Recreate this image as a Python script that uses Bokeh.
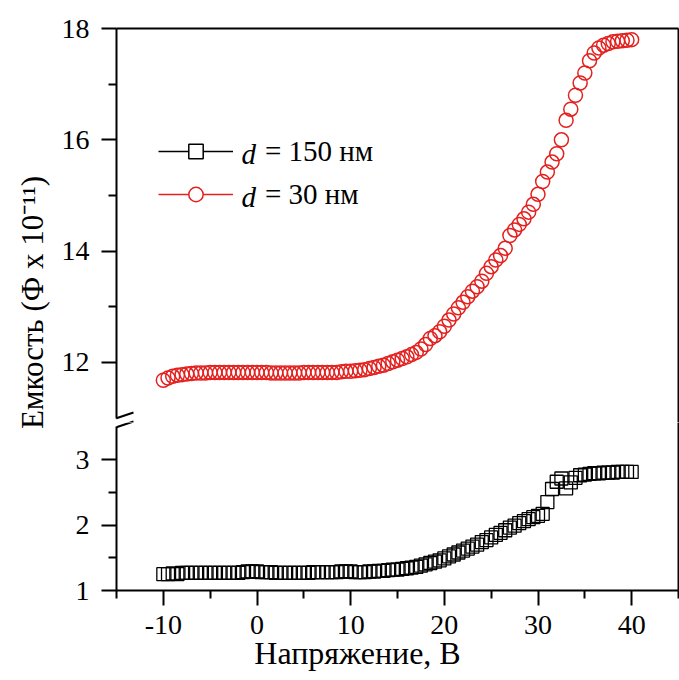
import numpy as np
from bokeh.plotting import figure
from bokeh.models import Range1d, LinearAxis, FixedTicker, Legend, LegendItem, Label, Arrow
from bokeh.layouts import row, column
from bokeh.embed import file_html
from bokeh.resources import INLINE

# ---------------- data ----------------
voltage = [-10.0, -9.5, -9.0, -8.5, -8.0, -7.5, -7.0, -6.5, -6.0, -5.5,
           -5.0, -4.5, -4.0, -3.5, -3.0, -2.5, -2.0, -1.5, -1.0, -0.5,
           0.0, 0.5, 1.0, 1.5, 2.0, 2.5, 3.0, 3.5, 4.0, 4.5,
           5.0, 5.5, 6.0, 6.5, 7.0, 7.5, 8.0, 8.5, 9.0, 9.5,
           10.0, 10.5, 11.0, 11.5, 12.0, 12.5, 13.0, 13.5, 14.0, 14.5,
           15.0, 15.5, 16.0, 16.5, 17.0, 17.5, 18.0, 18.5, 19.0, 19.5,
           20.0, 20.5, 21.0, 21.5, 22.0, 22.5, 23.0, 23.5, 24.0, 24.5,
           25.0, 25.5, 26.0, 26.5, 27.0, 27.5, 28.0, 28.5, 29.0, 29.5,
           30.0, 30.5, 31.0, 31.5, 32.0, 32.5, 33.0, 33.5, 34.0, 34.5,
           35.0, 35.5, 36.0, 36.5, 37.0, 37.5, 38.0, 38.5, 39.0, 39.5,
           40.0]

cap_150nm = [1.25, 1.25, 1.26, 1.25, 1.27, 1.27, 1.27, 1.27, 1.27, 1.27,
             1.27, 1.27, 1.27, 1.27, 1.27, 1.27, 1.27, 1.28, 1.29, 1.29,
             1.29, 1.28, 1.28, 1.28, 1.27, 1.27, 1.27, 1.27, 1.27, 1.27,
             1.27, 1.27, 1.28, 1.28, 1.28, 1.28, 1.28, 1.28, 1.29, 1.29,
             1.29, 1.28, 1.28, 1.28, 1.29, 1.29, 1.30, 1.30, 1.31, 1.32,
             1.32, 1.33, 1.34, 1.35, 1.36, 1.38, 1.40, 1.42, 1.44, 1.46,
             1.49, 1.52, 1.55, 1.58, 1.61, 1.64, 1.67, 1.70, 1.74, 1.77,
             1.81, 1.85, 1.88, 1.92, 1.96, 1.99, 2.03, 2.06, 2.09, 2.12,
             2.14, 2.17, 2.35, 2.55, 2.66, 2.71, 2.56, 2.65, 2.72, 2.76,
             2.77, 2.78, 2.79, 2.79, 2.80, 2.80, 2.80, 2.81, 2.81, 2.81,
             2.81]

cap_30nm = [11.68, 11.72, 11.75, 11.77, 11.78, 11.79, 11.80, 11.81, 11.81, 11.81,
            11.82, 11.82, 11.82, 11.82, 11.82, 11.82, 11.82, 11.82, 11.82, 11.82,
            11.82, 11.82, 11.82, 11.81, 11.81, 11.81, 11.81, 11.81, 11.81, 11.81,
            11.82, 11.82, 11.82, 11.82, 11.82, 11.82, 11.82, 11.82, 11.83, 11.84,
            11.84, 11.85, 11.86, 11.87, 11.89, 11.91, 11.93, 11.95, 11.98, 12.01,
            12.04, 12.07, 12.10, 12.14, 12.18, 12.24, 12.32, 12.43, 12.48, 12.55,
            12.65, 12.76, 12.87, 12.98, 13.08, 13.18, 13.28, 13.36, 13.46, 13.60,
            13.72, 13.84, 13.92, 14.05, 14.28, 14.38, 14.48, 14.58, 14.70, 14.84,
            15.02, 15.25, 15.42, 15.60, 15.75, 16.00, 16.35, 16.55, 16.80, 17.02,
            17.20, 17.42, 17.56, 17.65, 17.70, 17.73, 17.76, 17.77, 17.78, 17.79,
            17.80]

x_ticks = [-10, 0, 10, 20, 30, 40]
x_minor = [-15, -5, 5, 15, 25, 35, 45]
x_tick_labels = {-10: "-10"}
upper_ticks = [12, 14, 16, 18]
upper_minor = [13, 15, 17]
lower_ticks = [1, 2, 3]
lower_minor = [1.5, 2.5]

legend_symbol = "d"
label_150 = "= 150 нм"
label_30 = "= 30 нм"
x_title = "Напряжение, В"
y_title = "Емкость (Ф x 10⁻¹¹)"

FONT = "Liberation Serif"
RED = "#e3211f"
AXW = 2
NAN = float("nan")

# ---------------- figures ----------------
xr = Range1d(-15, 45)

def base_fig(height, y_range, mb_top, mb_bottom):
    f = figure(width=621, height=height, x_range=xr, y_range=y_range,
               output_backend="svg", toolbar_location=None,
               x_axis_location=None, y_axis_location=None,
               min_border_left=55, min_border_right=1,
               min_border_top=mb_top, min_border_bottom=mb_bottom)
    f.grid.visible = False
    f.outline_line_color = None
    f.background_fill_color = "white"
    f.border_fill_color = "white"
    return f

def style_axis(ax, font_size="28px"):
    ax.axis_line_width = AXW
    ax.major_tick_line_width = AXW
    ax.minor_tick_line_width = AXW
    ax.major_tick_in = 0
    ax.major_tick_out = 15
    ax.minor_tick_in = 0
    ax.minor_tick_out = 8
    ax.major_label_text_font = FONT
    ax.major_label_text_font_size = font_size
    ax.major_label_text_color = "black"

def plain_axis():
    ax = LinearAxis(ticker=FixedTicker(ticks=[], minor_ticks=[]))
    ax.axis_line_width = AXW
    ax.major_tick_out = 0
    ax.minor_tick_out = 0
    ax.major_label_standoff = 0
    ax.major_label_text_font_size = "0px"
    return ax

up = base_fig(422, Range1d(10.92, 18), 28, 0)
lo = base_fig(258, Range1d(1, 3.565), 0, 90)

# upper y axis
ay_up = LinearAxis(ticker=FixedTicker(ticks=upper_ticks, minor_ticks=upper_minor), bounds=(11.0, 18))
style_axis(ay_up)
ay_up.major_label_standoff = 12
up.add_layout(ay_up, "left")
up.add_layout(plain_axis(), "above")
up.add_layout(plain_axis(), "right")

# lower y axis
ay_lo = LinearAxis(ticker=FixedTicker(ticks=lower_ticks, minor_ticks=lower_minor), bounds=(1, 3.5))
style_axis(ay_lo)
ay_lo.major_label_standoff = 12
lo.add_layout(ay_lo, "left")
lo.add_layout(plain_axis(), "right")

# x axis; trailing no-break spaces shift the centred title to the left, as in the original
ax_x = LinearAxis(ticker=FixedTicker(ticks=x_ticks, minor_ticks=x_minor))
style_axis(ax_x)
ax_x.major_label_overrides = x_tick_labels
ax_x.major_label_standoff = 10
ax_x.axis_label = x_title + "\u00a0" * 10
ax_x.axis_label_text_font = FONT
ax_x.axis_label_text_font_size = "32px"
ax_x.axis_label_text_font_style = "normal"
ax_x.axis_label_text_color = "black"
ax_x.axis_label_standoff = -2
lo.add_layout(ax_x, "below")

# data
up.scatter(voltage, cap_30nm, marker="circle", size=14, fill_color=None,
           line_color=RED, line_width=1.5)
lo.scatter(voltage, cap_150nm, marker="square", size=13, fill_color=None,
           line_color="black", line_width=1.3)

# legend sample glyphs (a single NaN point: nothing is drawn in the plot)
lg_line_b = up.line(x=[NAN], y=[NAN], line_color="black", line_width=1.5)
lg_mark_b = up.scatter(x=[NAN], y=[NAN], marker="square", size=13, fill_color="white",
                       line_color="black", line_width=1.5)
lg_line_r = up.line(x=[NAN], y=[NAN], line_color=RED, line_width=1.5)
lg_mark_r = up.scatter(x=[NAN], y=[NAN], marker="circle", size=13, fill_color="white",
                       line_color=RED, line_width=1.5)
legend = Legend(items=[LegendItem(label=label_150, renderers=[lg_line_b, lg_mark_b]),
                       LegendItem(label=label_30, renderers=[lg_line_r, lg_mark_r])],
                location=(42, 210), glyph_width=75, glyph_height=36, spacing=7,
                label_standoff=32, padding=0, margin=0,
                label_text_font=FONT, label_text_font_size="29px",
                label_text_color="black",
                border_line_color=None, background_fill_alpha=0)
up.add_layout(legend)
# italic "d" in front of each legend label
for ly in (269, 226):
    up.add_layout(Label(x=125, y=ly, x_units="screen", y_units="screen",
                        text=legend_symbol, text_font=FONT, text_font_size="29px",
                        text_font_style="italic", text_color="black",
                        text_baseline="middle", text_align="left"))

# axis break marks (drawn in both panels; each panel shows its own part)
for f, off in ((up, 0), (lo, 168)):
    for dy in (0, -9):
        f.add_layout(Arrow(x_start=-16, y_start=-1 + dy + off, x_end=17, y_end=10 + dy + off,
                           start_units="screen", end_units="screen", end=None,
                           line_color="black", line_width=AXW))

# y title panel
yl = figure(width=58, height=680, x_range=Range1d(0, 58), y_range=Range1d(0, 680),
            output_backend="svg", toolbar_location=None,
            x_axis_location=None, y_axis_location=None, min_border=0)
yl.grid.visible = False
yl.outline_line_color = None
yl.add_layout(Label(x=32, y=378, text=y_title, angle=np.pi / 2,
                    text_align="center", text_baseline="middle",
                    text_font=FONT, text_font_size="31px", text_color="black"))

layout = row(yl, column(up, lo))
open("out.html", "w").write(file_html(layout, INLINE))
